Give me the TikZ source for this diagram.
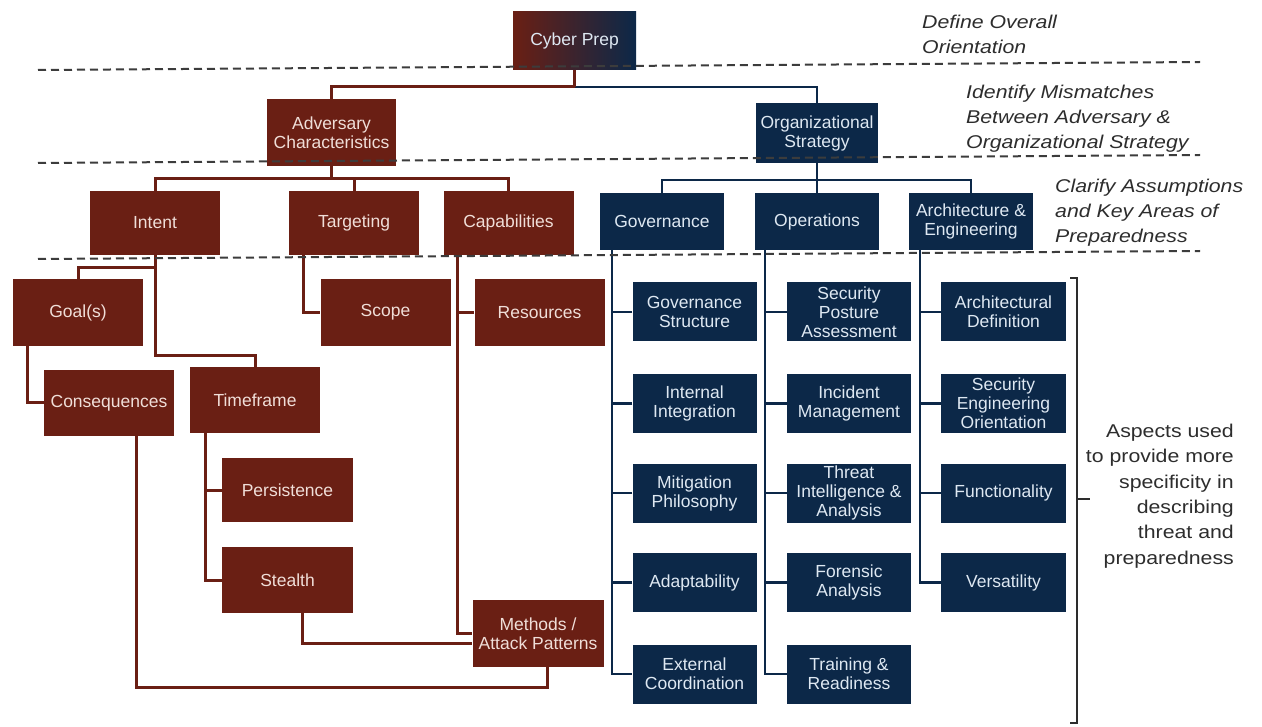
\documentclass[tikz,border=0pt]{standalone}
\usepackage{fontspec}
\setmainfont{Liberation Sans}
\newfontfamily\widesans[FakeStretch=1.15]{Liberation Sans}
\usetikzlibrary{backgrounds}

\definecolor{mar}{RGB}{106,31,20}
\definecolor{nav}{RGB}{12,40,72}
\definecolor{martxt}{RGB}{240,222,216}
\definecolor{navtxt}{RGB}{222,232,242}
\definecolor{dashgray}{RGB}{60,60,60}
\definecolor{labgray}{RGB}{45,45,45}

\tikzset{
  box/.style={rectangle, inner sep=1pt, align=center,
    font=\fontsize{17.5}{19}\selectfont},
  mbox/.style={box, fill=mar, text=martxt},
  nbox/.style={box, fill=nav, text=navtxt},
  msz/.style={minimum width=130pt, minimum height=66pt},
  nsz/.style={minimum width=124pt, minimum height=59pt},
  mline/.style={draw=mar, line width=3pt},
  nline/.style={draw=nav, line width=2.6pt},
  sep/.style={draw=dashgray, line width=2pt, dash pattern=on 8pt off 5pt},
  brk/.style={draw=labgray, line width=1.5pt},
  lab/.style={align=left, anchor=west, inner sep=0pt, text=labgray,
    font=\widesans\itshape\fontsize{18.5}{25}\selectfont},
  asp/.style={align=right, anchor=east, inner sep=0pt, text=labgray,
    font=\widesans\fontsize{18.5}{25.3}\selectfont},
}

\begin{document}
\begin{tikzpicture}[x=1pt,y=-1pt]
\useasboundingbox (0,0) rectangle (1262,727);

% ---- top levels
\node[box, text=navtxt, minimum width=123pt, minimum height=58pt,
      left color=mar, right color=nav] (cp) at (574.5,41) {Cyber Prep};
\node[mbox, minimum width=129pt, minimum height=67pt] (adv) at (331.5,132.5) {Adversary\\Characteristics};
\node[nbox, minimum width=122pt, minimum height=60pt] (org) at (817,133) {Organizational\\Strategy};

\node[mbox, msz, minimum height=64pt] (intent) at (155,223) {Intent};
\node[mbox, msz, minimum height=64pt] (targ) at (354,223) {Targeting};
\node[mbox, msz, minimum height=64pt] (cap) at (508.5,223) {Capabilities};
\node[nbox, nsz, minimum height=57pt] (gov) at (662,221.5) {Governance};
\node[nbox, nsz, minimum height=57pt] (ops) at (817,221.5) {Operations};
\node[nbox, nsz, minimum height=57pt] (arch) at (971,221.5) {Architecture \&\\Engineering};

% ---- adversary aspects
\node[mbox, msz, minimum height=67pt] (goal) at (78,312.5) {Goal(s)};
\node[mbox, msz, minimum height=67pt] (scope) at (385.5,312.5) {Scope};
\node[mbox, msz, minimum height=67pt] (res) at (539.5,312.5) {Resources};
\node[mbox, msz] (cons) at (109,403) {Consequences};
\node[mbox, msz] (tf) at (255,400) {Timeframe};
\node[mbox, msz, minimum width=131pt, minimum height=64pt] (pers) at (287.5,490) {Persistence};
\node[mbox, msz, minimum width=131pt] (stealth) at (287.5,580) {Stealth};
\node[mbox, msz, minimum width=131pt, minimum height=67pt] (meth) at (538,633.5) {Methods /\\Attack Patterns};

% ---- organizational aspects
\node[nbox, nsz] (g1) at (694.5,312) {Governance\\Structure};
\node[nbox, nsz] (g2) at (694.5,403.5) {Internal\\Integration};
\node[nbox, nsz] (g3) at (694.5,493) {Mitigation\\Philosophy};
\node[nbox, nsz] (g4) at (694.5,582.5) {Adaptability};
\node[nbox, nsz] (g5) at (694.5,674) {External\\Coordination};

\node[nbox, nsz] (o1) at (849,312) {Security\\Posture\\Assessment};
\node[nbox, nsz] (o2) at (849,403.5) {Incident\\Management};
\node[nbox, nsz] (o3) at (849,493) {Threat\\Intelligence \&\\Analysis};
\node[nbox, nsz] (o4) at (849,582.5) {Forensic\\Analysis};
\node[nbox, nsz] (o5) at (849,674) {Training \&\\Readiness};

\node[nbox, nsz, minimum width=125pt] (a1) at (1003.5,312) {Architectural\\Definition};
\node[nbox, nsz, minimum width=125pt] (a2) at (1003.5,403.5) {Security\\Engineering\\Orientation};
\node[nbox, nsz, minimum width=125pt] (a3) at (1003.5,493) {Functionality};
\node[nbox, nsz, minimum width=125pt] (a4) at (1003.5,582.5) {Versatility};

% ---- connectors (behind the boxes)
\begin{scope}[on background layer]
  \fill[white] (0,0) rectangle (1262,727);

  \coordinate (j0) at (574.5,87);
  \draw[mline] (cp.south) -- (j0) -| (adv.north);
  \draw[nline] (j0) -| (org.north);
  \draw[mline] (cp.south) -- (j0);

  \coordinate (j1) at (331.5,179);
  \draw[mline] (adv.south) -- (j1);
  \draw[mline] (intent.north) |- (j1) -| (cap.north);
  \draw[mline] (targ.north) -- (targ.north |- j1);

  \coordinate (j2) at (817,180);
  \draw[nline] (org.south) -- (j2);
  \draw[nline] (gov.north) |- (j2) -| (arch.north);
  \draw[nline] (ops.north) -- (j2);

  % intent branch
  \coordinate (i1) at (155,268);
  \coordinate (i2) at (155,356);
  \draw[mline] (intent.south) -- (i2) -| (tf.north);
  \draw[mline] (i1) -| (goal.north);
  \draw[mline] ([xshift=-51pt]goal.south) |- (cons.west);
  \coordinate (tv) at ([xshift=-50pt]tf.south);
  \draw[mline] (tv) |- (stealth.west);
  \draw[mline] (tv) |- (pers.west);

  % targeting branch
  \draw[mline] ([xshift=-51pt]targ.south) |- (scope.west);

  % capabilities branch
  \coordinate (cv) at ([xshift=-51pt]cap.south);
  \draw[mline] (cv) |- (meth.west);
  \draw[mline] (cv) |- (res.west);

  % links into methods
  \draw[mline] ([xshift=15pt]stealth.south) |- ([yshift=-9.5pt]meth.west);
  \coordinate (c5) at (547,687);
  \draw[mline] ([xshift=27pt]cons.south) |- (c5) -- (c5 |- meth.south);

  % organizational columns
  \coordinate (gv) at ([xshift=-50pt]gov.south);
  \draw[nline] (gv) |- (g5.west);
  \foreach \n in {g1,g2,g3,g4} \draw[nline] (\n.west) -- (\n.west -| gv);

  \coordinate (ov) at ([xshift=-52pt]ops.south);
  \draw[nline] (ov) |- (o5.west);
  \foreach \n in {o1,o2,o3,o4} \draw[nline] (\n.west) -- (\n.west -| ov);

  \coordinate (av) at ([xshift=-51pt]arch.south);
  \draw[nline] (av) |- (a4.west);
  \foreach \n in {a1,a2,a3} \draw[nline] (\n.west) -- (\n.west -| av);
\end{scope}

% ---- level separators
\coordinate (d1a) at (38,70);   \coordinate (d1b) at (1200,62);
\coordinate (d2a) at (38,163);  \coordinate (d2b) at (1200,155);
\coordinate (d3a) at (38,259);  \coordinate (d3b) at (1200,251);
\draw[sep] (d1a) -- (d1b);
\draw[sep] (d2a) -- (d2b);
\draw[sep] (d3a) -- (d3b);

% ---- level labels
\node[lab] (l1) at (922,34.5) {Define Overall\\Orientation};
\node[lab] (l2) at (966,119) {Identify Mismatches\\Between Adversary \&\\Organizational Strategy};
\node[lab] (l3) at (1055,213) {Clarify Assumptions\\and Key Areas of\\Preparedness};

% ---- bracket and note
\coordinate (bt) at (1070,278);  \coordinate (b1) at (1077,278);
\coordinate (b2) at (1077,723);  \coordinate (bb) at (1070,723);
\coordinate (bm) at (1077,499);  \coordinate (bp) at (1090,499);
\draw[brk] (bt) -- (b1) -- (b2) -- (bb);
\draw[brk] (bm) -- (bp);
\node[asp] (note) at (1234,496) {Aspects used\\to provide more\\specificity in\\describing\\threat and\\preparedness};
\end{tikzpicture}
\end{document}
